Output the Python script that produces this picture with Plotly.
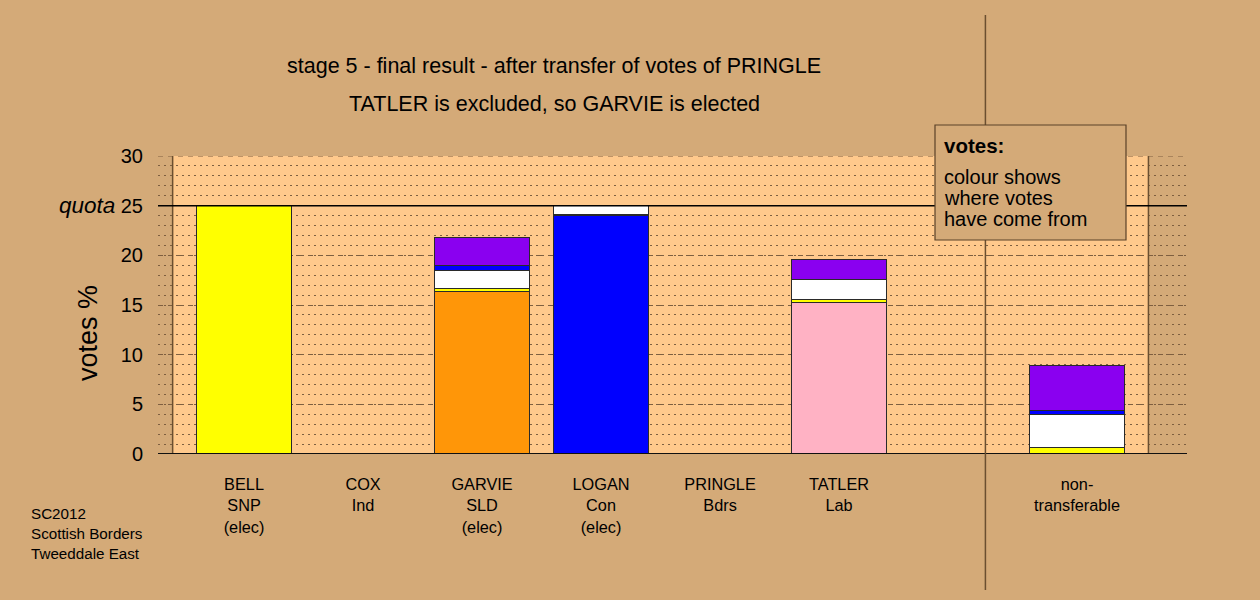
import plotly.graph_objects as go

# ---- data ----
categories = ["BELL<br>SNP<br>(elec)", "COX<br>Ind", "GARVIE<br>SLD<br>(elec)",
              "LOGAN<br>Con<br>(elec)", "PRINGLE<br>Bdrs", "TATLER<br>Lab",
              "non-<br>transferable"]
positions = [0, 1, 2, 3, 4, 5, 7]
first_pref = [25.0, 0, 16.4, 24.0, 0, 15.3, 0]
first_colors = ["#ffff00", "#8a00f0", "#ff9608", "#0000ff", "#ffffff", "#ffb2c4", "#ffffff"]
from_bell = [0, 0, 0.3, 0.1, 0, 0.3, 0.67]
from_cox = [0, 0, 1.8, 0.9, 0, 2.0, 3.33]
from_logan = [0, 0, 0.5, 0, 0, 0, 0.43]
from_pringle = [0, 0, 2.8, 0, 0, 1.95, 4.43]
y_ticks = [0, 5, 10, 15, 20, 25, 30]
y_ticktext = ["0", "5", "10", "15", "20",
              '<span style="font-size:22.5px"><i>quota</i></span> 25', "30"]
quota = 25
separator_pos = 6.23

BG = "#d4aa78"
PANEL = "#ffc98c"
GRID = "#7e5f40"
FONT = "Liberation Sans, Arial, Helvetica, sans-serif"

x_range = [-0.723, 7.924]
L, R, T, B = 158, 1187, 156, 454


def px_x(p):
    return (p - L) / (R - L)


def px_y(p):
    return (B - p) / (B - T)


def nz(vals):
    return [v if v else None for v in vals]


fig = go.Figure()
series = [
    ("first preferences", first_pref, first_colors),
    ("from BELL", from_bell, "#ffff00"),
    ("from COX", from_cox, "#ffffff"),
    ("from LOGAN", from_logan, "#0000ff"),
    ("from PRINGLE", from_pringle, "#8a00f0"),
]
for name, vals, col in series:
    fig.add_trace(go.Bar(
        x=positions, y=nz(vals), name=name, width=0.8,
        marker=dict(color=col, line=dict(color="#2a2a2a", width=1)),
        showlegend=False,
    ))

shapes = [
    dict(type="rect", xref="x", yref="y", x0=-0.6, x1=7.6, y0=0, y1=30,
         fillcolor=PANEL, line=dict(width=0), layer="below"),
    dict(type="line", xref="paper", yref="y", x0=0, x1=1, y0=30, y1=30,
         line=dict(color=GRID, width=1, dash="5px,5px"), layer="above"),
    dict(type="line", xref="x", yref="y", x0=-0.6, x1=-0.6, y0=0, y1=30,
         line=dict(color="#6b4f30", width=1.5), layer="above"),
    dict(type="line", xref="x", yref="y", x0=7.6, x1=7.6, y0=0, y1=30,
         line=dict(color="#6b4f30", width=1.5), layer="above"),
    dict(type="line", xref="paper", yref="y", x0=0, x1=1, y0=quota, y1=quota,
         line=dict(color="#000000", width=1.5), layer="above"),
    dict(type="line", xref="paper", yref="y", x0=0, x1=1, y0=0, y1=0,
         line=dict(color="#111111", width=2), layer="above"),
]
sep_x = (separator_pos - x_range[0]) / (x_range[1] - x_range[0])
shapes.append(dict(type="line", xref="paper", yref="paper", x0=sep_x, x1=sep_x,
                   y0=px_y(590), y1=px_y(15),
                   line=dict(color="#6b4f30", width=1.5), layer="above"))
shapes.append(dict(type="rect", xref="paper", yref="paper",
                   x0=px_x(935), x1=px_x(1126), y0=px_y(240), y1=px_y(125),
                   fillcolor=BG, line=dict(color="#5a4228", width=1.2), layer="above"))

annotations = [
    dict(text="stage 5 - final result - after transfer of votes of PRINGLE",
         x=px_x(554), y=px_y(66), font=dict(size=21.5)),
    dict(text="TATLER is excluded, so GARVIE is elected",
         x=px_x(554), y=px_y(104), font=dict(size=21.5)),
    dict(text="votes %", x=px_x(88), y=px_y(333), textangle=-90, font=dict(size=27)),
    dict(text="<b>votes:</b>", x=px_x(942), y=px_y(145), xanchor="left", font=dict(size=20.5)),
    dict(text="colour shows", x=px_x(942), y=px_y(176.5), xanchor="left", font=dict(size=20)),
    dict(text="where votes", x=px_x(942), y=px_y(197.5), xanchor="left", font=dict(size=20)),
    dict(text="have come from", x=px_x(942), y=px_y(218.5), xanchor="left", font=dict(size=20)),
    dict(text="SC2012<br>Scottish Borders<br>Tweeddale East", x=px_x(29), y=px_y(533),
         xanchor="left", align="left", font=dict(size=15.2)),
]
for a in annotations:
    a.update(xref="paper", yref="paper", showarrow=False)
    a.setdefault("xanchor", "center")
    a["yanchor"] = "middle"
    a["font"].update(family=FONT, color="#000000")

fig.update_layout(
    width=1260, height=600, autosize=False,
    margin=dict(l=L, r=1260 - R, t=T, b=600 - B, pad=0),
    paper_bgcolor=BG, plot_bgcolor=BG,
    barmode="stack", bargap=0.2,
    font=dict(family=FONT, color="#000000"),
    shapes=shapes, annotations=annotations,
    xaxis=dict(range=x_range, tickmode="array", tickvals=positions, ticktext=categories,
               showgrid=False, zeroline=False, showline=False, ticks="",
               tickfont=dict(size=16.3), ticklabelstandoff=19, fixedrange=True),
    yaxis=dict(range=[0, 30], tickmode="array", tickvals=y_ticks, ticktext=y_ticktext,
               showgrid=True, gridcolor=GRID, gridwidth=1, griddash="5px,5px",
               minor=dict(tick0=0, dtick=1, showgrid=True, gridcolor=GRID,
                          gridwidth=1, griddash="2px,4px"),
               zeroline=False, showline=False, ticks="",
               tickfont=dict(size=20), ticklabelstandoff=14, fixedrange=True),
)

fig.write_html("out.html", config={"displayModeBar": False},
               post_script="document.body.style.margin='0';")
